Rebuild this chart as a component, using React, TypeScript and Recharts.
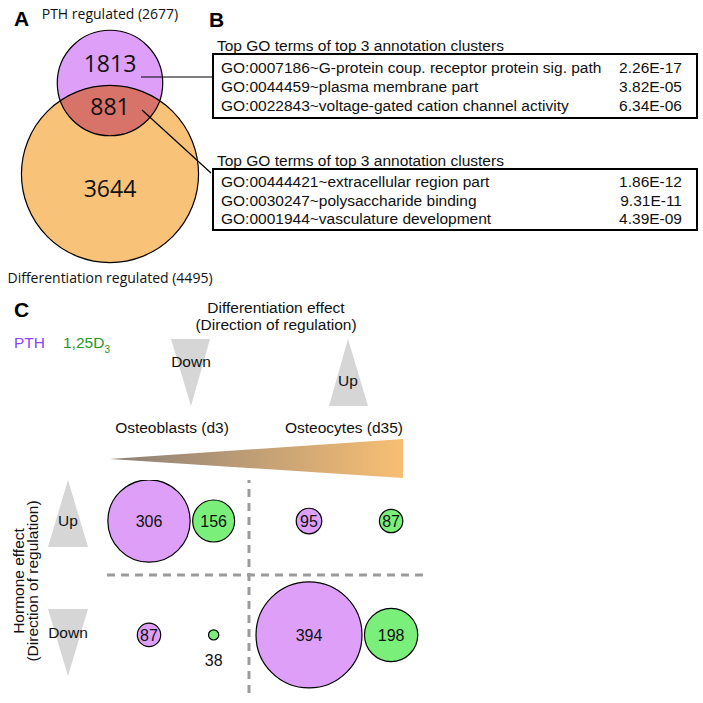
import React from 'react';
import { ScatterChart, Scatter, XAxis, YAxis, ReferenceLine } from 'recharts';

// ---------- data ----------
const vennSets = ['PTH regulated', 'Differentiation regulated'];
const vennTotals = [2677, 4495];
const vennUnique = [1813, 3644];
const vennShared = 881;

const goTitle = 'Top GO terms of top 3 annotation clusters';
const pthOnlyTerms = [
  'GO:0007186~G-protein coup. receptor protein sig. path',
  'GO:0044459~plasma membrane part',
  'GO:0022843~voltage-gated cation channel activity',
];
const pthOnlyP = ['2.26E-17', '3.82E-05', '6.34E-06'];
const sharedTerms = [
  'GO:00444421~extracellular region part',
  'GO:0030247~polysaccharide binding',
  'GO:0001944~vasculature development',
];
const sharedP = ['1.86E-12', '9.31E-11', '4.39E-09'];

const stages = ['Osteoblasts (d3)', 'Osteocytes (d35)'];
const directions = ['Up', 'Down'];
const pthUp = [306, 95];
const pthDown = [87, 394];
const vdUp = [156, 87];
const vdDown = [38, 198];

// ---------- style / layout ----------
const PURPLE = '#DE9FF8';
const GREEN = '#7AEF7A';
const ORANGE = '#F8C379';
const RED = '#D8736A';
const TRI = '#D6D6D6';
const DASH = '#9B9B9B';
const SANS = '"Liberation Sans", Arial, sans-serif';
const VENN_FONT = '"Open Sans", sans-serif';
const FS = 15.5;

const VENN_R = 0.0197; // radius px per gene
const BUBBLE_R = 0.1345; // radius px per gene

const BUB = { left: 107, right: 425, top: 480, bottom: 693 };
const X_DOMAIN: [number, number] = [-0.2625, 1.725];
const Y_DOMAIN: [number, number] = [-0.36, 1.51];
const PX_PER_STAGE = (BUB.right - BUB.left) / (X_DOMAIN[1] - X_DOMAIN[0]);

// venn points (row 0 = PTH, row 1 = differentiation)
const vennPth = [{ x: 0, y: 0, name: vennSets[0], total: vennTotals[0], unique: vennUnique[0] }];
const vennDiff = [{ x: 0, y: 1, name: vennSets[1], total: vennTotals[1], unique: vennUnique[1] }];

// bubble points, 1,25D3 sits just right of the PTH bubbles of the same stage
const vdOffset = stages.map((_, s) => {
  const px = BUBBLE_R * (Math.max(pthUp[s], pthDown[s]) + Math.max(vdUp[s], vdDown[s])) + 2.5;
  return px / PX_PER_STAGE;
});
const pthPoints = stages.flatMap((stage, s) => [
  { x: s, y: 0, n: pthUp[s], stage, dir: directions[0] },
  { x: s, y: 1, n: pthDown[s], stage, dir: directions[1] },
]);
const vdPoints = stages.flatMap((stage, s) => [
  { x: s + vdOffset[s], y: 0, n: vdUp[s], stage, dir: directions[0] },
  { x: s + vdOffset[s], y: 1, n: vdDown[s], stage, dir: directions[1] },
]);

const DiffShape = (props: any) => {
  const { cx, cy, payload } = props;
  const r = payload.total * VENN_R;
  return (
    <g>
      <defs>
        <circle id="venn-diff-geom" cx={cx} cy={cy} r={r} />
        <clipPath id="venn-diff-clip">
          <circle cx={cx} cy={cy} r={r} />
        </clipPath>
      </defs>
      <use href="#venn-diff-geom" fill={ORANGE} />
      <text x={cx} y={cy + 14.5} dy="0.357em" textAnchor="middle" fontFamily={VENN_FONT} fontSize={23} fill="#111">
        {payload.unique}
      </text>
      <text x={cx} y={cy + r + 20.4} textAnchor="middle" fontFamily={VENN_FONT} fontSize={14} fill="#111">
        {`${payload.name} (${payload.total})`}
      </text>
    </g>
  );
};

const PthShape = (props: any) => {
  const { cx, cy, payload } = props;
  const r = payload.total * VENN_R;
  return (
    <g>
      <circle cx={cx} cy={cy} r={r} fill={PURPLE} />
      <circle cx={cx} cy={cy} r={r} fill={RED} clipPath="url(#venn-diff-clip)" />
      <use href="#venn-diff-geom" fill="none" stroke="#000" strokeWidth={1.2} />
      <circle cx={cx} cy={cy} r={r} fill="none" stroke="#000" strokeWidth={1.2} />
      <text x={cx} y={cy - 19} dy="0.357em" textAnchor="middle" fontFamily={VENN_FONT} fontSize={23} fill="#111">
        {payload.unique}
      </text>
      <text x={cx} y={cy + 24} dy="0.357em" textAnchor="middle" fontFamily={VENN_FONT} fontSize={23} fill="#111">
        {vennShared}
      </text>
      <text x={cx} y={cy - r - 10.8} textAnchor="middle" fontFamily={VENN_FONT} fontSize={14} fill="#111">
        {`${payload.name} (${payload.total})`}
      </text>
    </g>
  );
};

const bubble = (fill: string) => (props: any) => {
  const { cx, cy, payload } = props;
  const r = payload.n * BUBBLE_R;
  const inside = r > 9;
  return (
    <g>
      <circle cx={cx} cy={cy} r={r} fill={fill} stroke="#000" strokeWidth={1.2} />
      <text x={cx} y={inside ? cy : cy + 25} dy="0.36em" textAnchor="middle" fontFamily={SANS} fontSize={16} fill="#111">
        {payload.n}
      </text>
    </g>
  );
};

const GoBox: React.FC<{ y: number; h: number; terms: string[]; pvals: string[] }> = ({ y, h, terms, pvals }) => {
  const mid = y + h / 2 + 0.6;
  return (
    <g fontFamily={SANS} fontSize={FS} fill="#111">
      <text x={217} y={y - 3}>{goTitle}</text>
      <rect x={213} y={y} width={484} height={h} fill="none" stroke="#000" strokeWidth={2} />
      {terms.map((t, i) => (
        <g key={t}>
          <text x={221} y={mid + (i - 1) * 18.8} dy="0.36em">{t}</text>
          <text x={682} y={mid + (i - 1) * 18.8} dy="0.36em" textAnchor="end">{pvals[i]}</text>
        </g>
      ))}
    </g>
  );
};

const App: React.FC = () => {
  return (
    <div style={{ position: 'absolute', left: 0, top: 0, width: 703, height: 703, background: '#fff' }}>
      {/* A: Venn */}
      <div style={{ position: 'absolute', left: 0, top: 0 }}>
        <ScatterChart width={230} height={300} margin={{ top: 83, right: 10, bottom: 126, left: 0 }}>
          <XAxis type="number" dataKey="x" domain={[-1, 1]} hide />
          <YAxis type="number" dataKey="y" domain={[0, 1]} reversed hide />
          <Scatter data={vennDiff} shape={DiffShape} isAnimationActive={false} />
          <Scatter data={vennPth} shape={PthShape} isAnimationActive={false} />
        </ScatterChart>
      </div>

      {/* C: bubbles */}
      <div style={{ position: 'absolute', left: 0, top: 0 }}>
        <ScatterChart
          width={703}
          height={703}
          margin={{ top: BUB.top, right: 703 - BUB.right, bottom: 703 - BUB.bottom, left: BUB.left }}
        >
          <XAxis type="number" dataKey="x" domain={X_DOMAIN} allowDataOverflow hide />
          <YAxis type="number" dataKey="y" domain={Y_DOMAIN} allowDataOverflow reversed hide />
          <ReferenceLine x={0.625} stroke={DASH} strokeWidth={3} strokeDasharray="8 6" />
          <ReferenceLine y={0.474} stroke={DASH} strokeWidth={3} strokeDasharray="8 6" />
          <Scatter name="PTH" data={pthPoints} shape={bubble(PURPLE)} isAnimationActive={false} />
          <Scatter name="1,25D3" data={vdPoints} shape={bubble(GREEN)} isAnimationActive={false} />
        </ScatterChart>
      </div>

      {/* annotations */}
      <svg width={703} height={703} style={{ position: 'absolute', left: 0, top: 0, pointerEvents: 'none' }}>
        <defs>
          <linearGradient id="stageGrad" x1="0" y1="0" x2="1" y2="0">
            <stop offset="0" stopColor="#8A7F78" />
            <stop offset="1" stopColor="#F8BF73" />
          </linearGradient>
        </defs>

        <g fontFamily={SANS} fontWeight="bold" fontSize={21} fill="#000">
          <text x={14} y={26}>A</text>
          <text x={209} y={27}>B</text>
          <text x={14} y={317}>C</text>
        </g>

        {/* B: GO tables + callouts */}
        <line x1={141} y1={77} x2={213} y2={77} stroke="#000" strokeWidth={1.2} />
        <line x1={142} y1={110} x2={211} y2={173} stroke="#000" strokeWidth={1.2} />
        <GoBox y={54} h={64} terms={pthOnlyTerms} pvals={pthOnlyP} />
        <GoBox y={169} h={61} terms={sharedTerms} pvals={sharedP} />

        {/* C: headers */}
        <g fontFamily={SANS} fontSize={FS} fill="#111">
          <text x={14} y={348} fill="#8C46F0">PTH</text>
          <text x={63} y={348} fill="#289628">
            1,25D<tspan fontSize={10} dy={5}>3</tspan>
          </text>

          <text x={276} y={313} textAnchor="middle">Differentiation effect</text>
          <text x={276} y={330} textAnchor="middle">(Direction of regulation)</text>

          <polygon points="171,339 210,339 191,406" fill={TRI} />
          <text x={191} y={367} textAnchor="middle">{directions[1]}</text>
          <polygon points="348,339 329,406 368,406" fill={TRI} />
          <text x={348} y={386} textAnchor="middle">{directions[0]}</text>

          <text x={172} y={433} textAnchor="middle">{stages[0]}</text>
          <text x={344} y={433} textAnchor="middle">{stages[1]}</text>
          <polygon points="110,459 403,439 403,478" fill="url(#stageGrad)" />

          <polygon points="68,480 48,547 88,547" fill={TRI} />
          <text x={68} y={526} textAnchor="middle">{directions[0]}</text>
          <polygon points="48,609 88,609 68,676" fill={TRI} />
          <text x={68} y={638} textAnchor="middle">{directions[1]}</text>

          <text transform="translate(24,581) rotate(-90)" textAnchor="middle">Hormone effect</text>
          <text transform="translate(38,581) rotate(-90)" textAnchor="middle">(Direction of regulation)</text>
        </g>
      </svg>
    </div>
  );
};

export default App;
